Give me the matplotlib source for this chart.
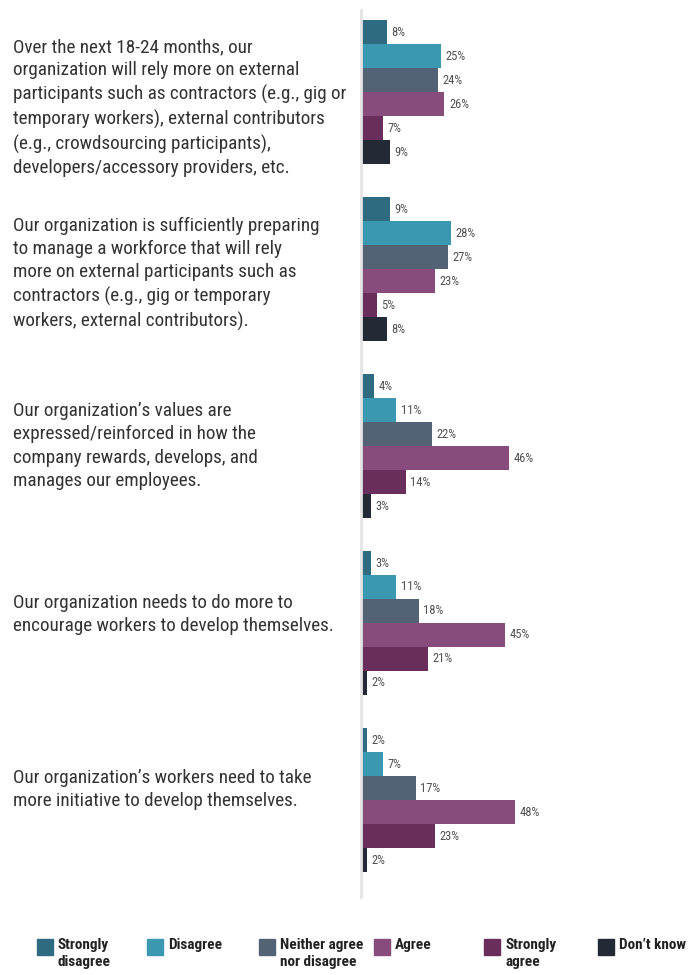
import matplotlib
matplotlib.use("Agg")
import matplotlib.pyplot as plt
from matplotlib.patches import Rectangle
from matplotlib import font_manager as fm

# pick a condensed sans family if one is installed
_available = {f.name for f in fm.fontManager.ttflist}
_family = 'Roboto'
for cand in ['Roboto Condensed', 'Archivo Narrow', 'PT Sans Narrow',
             'Liberation Sans Narrow', 'Barlow Semi Condensed', 'Open Sans Condensed']:
    if cand in _available:
        _family = cand
        break
plt.rcParams['font.family'] = [_family, 'DejaVu Sans']

questions = [
    "Over the next 18-24 months, our\norganization will rely more on external\nparticipants such as contractors (e.g., gig or\ntemporary workers), external contributors\n(e.g., crowdsourcing participants),\ndevelopers/accessory providers, etc.",
    "Our organization is sufficiently preparing\nto manage a workforce that will rely\nmore on external participants such as\ncontractors (e.g., gig or temporary\nworkers, external contributors).",
    "Our organization\u2019s values are\nexpressed/reinforced in how the\ncompany rewards, develops, and\nmanages our employees.",
    "Our organization needs to do more to\nencourage workers to develop themselves.",
    "Our organization\u2019s workers need to take\nmore initiative to develop themselves.",
]

categories = ["Strongly\ndisagree", "Disagree", "Neither agree\nnor disagree", "Agree", "Strongly\nagree", "Don\u2019t know"]
colors = ["#2e6b80", "#3a98b0", "#536275", "#874c7c", "#6a2e5c", "#232a35"]

strongly_disagree = [8, 9, 4, 3, 2]
disagree = [25, 28, 11, 11, 7]
neither = [24, 27, 22, 18, 17]
agree = [26, 23, 46, 45, 48]
strongly_agree = [7, 5, 14, 21, 23]
dont_know = [9, 8, 3, 2, 2]

series = [strongly_disagree, disagree, neither, agree, strongly_agree, dont_know]

W, H = 689, 975
fig = plt.figure(figsize=(W / 100, H / 100), dpi=100)

# axes area in pixels: left edge at x=361, spans y=10..897
ax_left, ax_top, ax_bottom = 361, 10, 897
ax = fig.add_axes([ax_left / W, 1 - ax_bottom / H, (W - ax_left) / W, (ax_bottom - ax_top) / H])

bar_px = 24.0
group_px = 177.0
first_top_px = 10.0
ax.set_ylim((ax_bottom - ax_top) / bar_px, 0)
ax.set_xlim(0, (W - ax_left) / 3.21)

text_offsets = [0.65, 0.2, 0.0, -0.35, -0.45]

for g in range(len(questions)):
    g_top = (first_top_px + g * group_px) / bar_px
    for k, vals in enumerate(series):
        y = g_top + k + 0.5
        v = vals[g]
        ax.barh(y, v, height=1.0, color=colors[k], linewidth=0)
        ax.text(v + 1.4, y, f"{v}%", va='center', ha='left', fontsize=9, color='#505050')
    centre = g_top + 3 + text_offsets[g]
    fig.text(13 / W, 1 - (ax_top + centre * bar_px) / H, questions[g],
             ha='left', va='center', fontsize=13.8, color='#333333', linespacing=1.38)

for s in ['top', 'right', 'bottom']:
    ax.spines[s].set_visible(False)
ax.spines['left'].set_color('#e3e3e3')
ax.spines['left'].set_linewidth(2)
ax.set_xticks([])
ax.set_yticks([])
ax.patch.set_alpha(0)

# legend drawn along the bottom
leg_x = [37, 147, 259, 374, 484, 598]
for k, lab in enumerate(categories):
    x0 = leg_x[k]
    fig.patches.append(Rectangle((x0 / W, 1 - 955 / H), 16 / W, 16 / H,
                                 transform=fig.transFigure, color=colors[k]))
    fig.text((x0 + 21) / W, 1 - 938 / H, lab, ha='left', va='top', fontsize=11,
             fontweight='bold', color='#222222', linespacing=1.3)

fig.savefig("out.png", dpi=100)
